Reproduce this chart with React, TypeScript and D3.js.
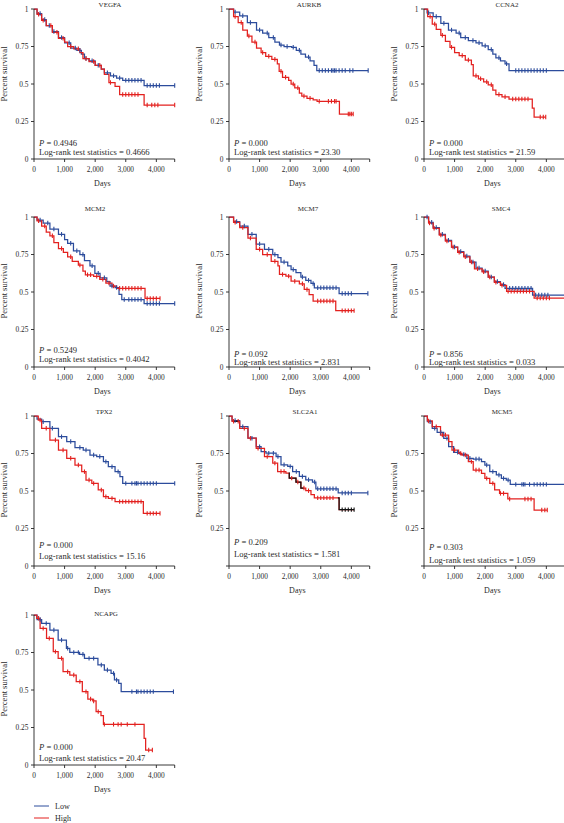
import React from "react";
import * as d3 from "d3";

type Pt = [number, number];

// ---------- DATA ----------
const xTicks = [0, 1000, 2000, 3000, 4000];
const yTicks = [0, 0.25, 0.5, 0.75, 1];
const xMax = 4600;

const vegfaLow: Pt[] = [[0,1],[100,0.97],[250,0.93],[400,0.89],[600,0.85],[800,0.81],[1000,0.775],[1200,0.74],[1400,0.725],[1550,0.70],[1650,0.67],[1800,0.655],[2000,0.625],[2200,0.60],[2300,0.575],[2500,0.555],[2700,0.54],[2900,0.525],[3600,0.49]];
const vegfaHigh: Pt[] = [[0,1],[100,0.965],[250,0.925],[400,0.89],[600,0.845],[800,0.805],[1000,0.78],[1100,0.75],[1300,0.735],[1500,0.71],[1600,0.67],[1800,0.65],[2000,0.625],[2200,0.60],[2300,0.565],[2450,0.51],[2650,0.485],[2800,0.43],[3600,0.36]];
const vegfaLowC = [200,350,500,650,900,1150,1350,1500,1700,1900,2100,2400,2600,2800,3000,3100,3200,3300,3400,3500,3700,3800,3900,4000,4100,4600];
const vegfaHighC = [150,300,550,750,950,1200,1450,1700,1950,2150,2500,2900,3000,3100,3200,3300,3400,3700,3850,3950,4050,4600];

const aurkbLow: Pt[] = [[0,1],[150,0.98],[350,0.955],[600,0.91],[900,0.86],[1100,0.84],[1300,0.81],[1500,0.78],[1650,0.76],[1800,0.75],[2050,0.745],[2200,0.725],[2350,0.70],[2500,0.68],[2650,0.655],[2780,0.625],[2870,0.59]];
const aurkbHigh: Pt[] = [[0,1],[150,0.95],[300,0.91],[450,0.86],[600,0.82],[750,0.78],[900,0.74],[1050,0.71],[1200,0.685],[1400,0.665],[1580,0.635],[1640,0.585],[1750,0.545],[1950,0.525],[2030,0.50],[2150,0.475],[2300,0.44],[2380,0.42],[2550,0.405],[2750,0.395],[2880,0.385],[3610,0.30]];
const aurkbLowC = [200,450,700,1000,1250,1450,1700,1900,2100,2300,2600,2950,3050,3150,3250,3350,3400,3450,3500,3600,3700,3800,3950,4050,4550];
const aurkbHighC = [200,400,650,850,1100,1300,1500,1700,1850,2100,2250,2450,2650,2950,3250,3350,3450,3500,3900,3950,4000,4060];

const ccna2Low: Pt[] = [[0,1],[100,0.975],[300,0.95],[550,0.905],[800,0.86],[1050,0.84],[1200,0.81],[1450,0.79],[1700,0.775],[1900,0.755],[2100,0.73],[2250,0.70],[2350,0.675],[2500,0.655],[2650,0.635],[2780,0.59]];
const ccna2High: Pt[] = [[0,1],[120,0.95],[270,0.90],[400,0.865],[550,0.825],[700,0.785],[850,0.745],[1000,0.71],[1150,0.69],[1350,0.66],[1550,0.63],[1610,0.555],[1780,0.535],[1950,0.515],[2100,0.495],[2250,0.46],[2350,0.43],[2550,0.415],[2780,0.40],[3540,0.34],[3600,0.28]];
const ccna2LowC = [150,400,650,900,1150,1350,1600,1800,2000,2200,2450,2700,3000,3100,3200,3300,3400,3500,3600,3700,3800,3900,4000,4600];
const ccna2HighC = [200,350,600,900,1250,1450,1700,1850,2050,2200,2450,2650,2900,3000,3100,3200,3300,3400,3800,3900,3980];

const mcm2Low: Pt[] = [[0,1],[100,0.98],[300,0.96],[520,0.92],[800,0.885],[1000,0.85],[1100,0.825],[1290,0.775],[1500,0.75],[1650,0.71],[1830,0.675],[1990,0.625],[2160,0.595],[2380,0.57],[2485,0.54],[2650,0.53],[2780,0.485],[2870,0.45],[3600,0.423]];
const mcm2High: Pt[] = [[0,1],[100,0.975],[250,0.94],[400,0.90],[520,0.875],[650,0.83],[800,0.79],[960,0.765],[1100,0.735],[1250,0.705],[1450,0.68],[1600,0.64],[1680,0.615],[1950,0.605],[2150,0.585],[2350,0.56],[2550,0.54],[2700,0.525],[3630,0.457]];
const mcm2LowC = [200,450,650,900,1200,1400,1600,1900,2100,2300,2550,2700,2950,3100,3200,3300,3400,3500,3700,3800,3900,4000,4100,4600];
const mcm2HighC = [150,350,600,900,1200,1500,1750,1850,2050,2250,2450,2600,2800,2900,3000,3100,3200,3300,3400,3500,3700,3800,3900,4000,4120];

const mcm7Low: Pt[] = [[0,1],[150,0.97],[350,0.94],[620,0.885],[890,0.82],[1160,0.785],[1430,0.75],[1600,0.73],[1700,0.70],[1920,0.675],[2030,0.65],[2190,0.63],[2350,0.60],[2510,0.578],[2680,0.557],[2790,0.528],[3600,0.49]];
const mcm7High: Pt[] = [[0,1],[150,0.965],[350,0.93],[620,0.86],[890,0.785],[1100,0.75],[1380,0.705],[1600,0.675],[1650,0.617],[1860,0.606],[2030,0.572],[2300,0.555],[2460,0.517],[2620,0.483],[2750,0.44],[3490,0.376]];
const mcm7LowC = [250,500,750,1000,1300,1500,1800,2100,2400,2600,2750,2900,3000,3100,3200,3300,3400,3500,3700,3800,3900,4000,4540];
const mcm7HighC = [200,450,700,1000,1250,1500,1750,1950,2150,2400,2550,2900,3000,3100,3200,3300,3400,3700,3800,3900,4000,4090];

const smc4Low: Pt[] = [[0,1],[150,0.965],[300,0.93],[500,0.885],[700,0.845],[900,0.80],[1100,0.77],[1300,0.74],[1500,0.70],[1700,0.66],[1900,0.64],[2100,0.60],[2300,0.57],[2500,0.55],[2650,0.525],[3550,0.48]];
const smc4High: Pt[] = [[0,1],[150,0.96],[300,0.925],[500,0.88],[700,0.84],[900,0.80],[1100,0.765],[1300,0.735],[1500,0.70],[1650,0.655],[1900,0.635],[2100,0.60],[2300,0.565],[2500,0.545],[2700,0.505],[3600,0.46]];
const smc4LowC = [100,250,400,600,800,1000,1200,1400,1600,1800,2000,2200,2400,2600,2800,2900,3000,3100,3200,3300,3400,3500,3650,3750,3850,3950,4050,4600];
const smc4HighC = [180,330,550,750,950,1150,1350,1550,1750,1950,2150,2350,2550,2750,2850,2950,3050,3150,3250,3350,3450,3700,3800,3900,4000,4100,4600];

const tpx2Low: Pt[] = [[0,1],[100,0.98],[250,0.962],[520,0.918],[800,0.862],[1070,0.83],[1340,0.79],[1610,0.773],[1830,0.74],[2050,0.73],[2270,0.696],[2430,0.662],[2650,0.629],[2810,0.596],[2900,0.551]];
const tpx2High: Pt[] = [[0,1],[140,0.973],[250,0.918],[520,0.84],[800,0.773],[1070,0.718],[1340,0.673],[1560,0.629],[1700,0.573],[1890,0.551],[2100,0.507],[2270,0.462],[2430,0.451],[2650,0.429],[3575,0.351]];
const tpx2LowC = [300,600,900,1200,1500,1700,1950,2150,2350,2550,2750,3000,3200,3300,3350,3400,3500,3600,3700,3800,3900,4000,4600];
const tpx2HighC = [200,400,700,950,1200,1450,1650,1800,1950,2200,2350,2550,2800,2900,3000,3100,3200,3300,3400,3500,3700,3800,3900,4000,4120];

const slc2a1Low: Pt[] = [[0,1],[100,0.97],[350,0.929],[620,0.852],[890,0.796],[1050,0.763],[1210,0.752],[1540,0.73],[1700,0.675],[1920,0.664],[2080,0.63],[2300,0.597],[2510,0.575],[2730,0.56],[2840,0.515],[3570,0.487]];
const slc2a1High: Pt[] = [[0,1],[100,0.965],[350,0.918],[620,0.852],[890,0.785],[1160,0.73],[1430,0.686],[1590,0.63],[1860,0.62],[1970,0.586],[2190,0.56],[2350,0.52],[2510,0.502],[2680,0.476],[2790,0.454],[3600,0.376]];
const slc2a1LowC = [200,450,750,1000,1300,1450,1600,1800,2000,2200,2400,2600,2800,2900,3000,3100,3200,3300,3400,3500,3700,3800,3900,4000,4540];
const slc2a1HighC = [150,300,500,700,950,1250,1500,1700,1800,2050,2250,2450,2600,2900,3000,3100,3200,3300,3400,3700,3800,3900,4000,4090];
const slc2a1HighBlack: Pt[] = [[150,300],[1950,2450],[3560,4090]];

const mcm5Low: Pt[] = [[0,1],[110,0.962],[270,0.918],[430,0.891],[645,0.851],[805,0.796],[970,0.758],[1180,0.744],[1400,0.718],[1610,0.713],[1880,0.696],[1990,0.673],[2150,0.629],[2365,0.607],[2530,0.584],[2690,0.573],[2820,0.544]];
const mcm5High: Pt[] = [[0,1],[110,0.967],[270,0.929],[540,0.873],[805,0.829],[915,0.773],[1130,0.751],[1240,0.74],[1450,0.696],[1610,0.64],[1880,0.618],[1990,0.584],[2150,0.551],[2310,0.507],[2470,0.484],[2740,0.447],[3600,0.373]];
const mcm5LowC = [200,350,550,750,1100,1300,1500,1700,1800,2050,2250,2450,2600,2750,3000,3200,3250,3300,3450,3600,3700,3800,3900,4000,4600];
const mcm5HighC = [150,400,600,700,1000,1200,1350,1550,1700,1800,2050,2250,2500,2600,2800,3300,3400,3500,3850,3950,4030];

const ncapgLow: Pt[] = [[0,1],[100,0.97],[250,0.944],[520,0.9],[790,0.833],[1060,0.778],[1170,0.751],[1490,0.738],[1650,0.711],[2090,0.667],[2300,0.633],[2520,0.611],[2630,0.567],[2770,0.544],[2850,0.489]];
const ncapgHigh: Pt[] = [[0,1],[90,0.978],[200,0.911],[410,0.844],[630,0.756],[790,0.711],[950,0.622],[1170,0.60],[1380,0.556],[1580,0.489],[1760,0.44],[1920,0.427],[2030,0.356],[2190,0.329],[2270,0.271],[3600,0.178],[3650,0.10]];
const ncapgLowC = [200,400,650,900,1100,1300,1450,1600,1800,1950,2200,2400,2600,2700,3200,3350,3400,3500,3600,3700,3800,3900,4560];
const ncapgHighC = [150,300,500,700,900,1100,1300,1500,1700,1850,1950,2100,2300,2600,2750,2850,3050,3300,3750,3870];

const genes = ["VEGFA","AURKB","CCNA2","MCM2","MCM7","SMC4","TPX2","SLC2A1","MCM5","NCAPG"];
const pValues = ["0.4946","0.000","0.000","0.5249","0.092","0.856","0.000","0.209","0.303","0.000"];
const logRank = ["0.4666","23.30","21.59","0.4042","2.831","0.033","15.16","1.581","1.059","20.47"];
const lowSeries = [vegfaLow,aurkbLow,ccna2Low,mcm2Low,mcm7Low,smc4Low,tpx2Low,slc2a1Low,mcm5Low,ncapgLow];
const highSeries = [vegfaHigh,aurkbHigh,ccna2High,mcm2High,mcm7High,smc4High,tpx2High,slc2a1High,mcm5High,ncapgHigh];
const lowCensor = [vegfaLowC,aurkbLowC,ccna2LowC,mcm2LowC,mcm7LowC,smc4LowC,tpx2LowC,slc2a1LowC,mcm5LowC,ncapgLowC];
const highCensor = [vegfaHighC,aurkbHighC,ccna2HighC,mcm2HighC,mcm7HighC,smc4HighC,tpx2HighC,slc2a1HighC,mcm5HighC,ncapgHighC];
const legendLabels = ["Low", "High"];

// ---------- LAYOUT ----------
const FONT = "'Liberation Serif', 'Times New Roman', serif";
const BLUE = "#2c4c9c";
const RED = "#e3211f";
const TXT = "#2a2a2a";
const colX = [34, 229, 424];
const rowZero = [159, 367, 566, 765];
const PH = 150;
const PW = 140.7;
const titleY = [4.5, 209, 412, 614];
const ylabShift = [-10, -1, -1, -1];
const titleDx = [76, 80, 83, 61, 79, 77, 70, 76, 78, 72];
const annDy: Pt[] = [[-16,-7],[-16,-7],[-16,-7],[-17,-8],[-13.5,-5],[-13.5,-5],[-21,-10],[-24,-12],[-19,-6],[-18,-7]];
const hideOne = [false,false,false,false,false,false,false,false,true,false];
const hideZero = [false,false,false,false,false,false,false,true,true,false];

function surv(pts: Pt[], t: number) {
  let s = pts[0][1];
  for (const [tt, v] of pts) { if (tt <= t) s = v; else break; }
  return s;
}
function segment(pts: Pt[], a: number, b: number): Pt[] {
  const out: Pt[] = [[a, surv(pts, a)]];
  for (const p of pts) if (p[0] > a && p[0] < b) out.push(p);
  out.push([b, surv(pts, b)]);
  return out;
}

function Panel({ i }: { i: number }) {
  const col = i % 3, row = Math.floor(i / 3);
  const ax = colX[col], zero = rowZero[row];
  const x = d3.scaleLinear().domain([0, xMax]).range([ax, ax + PW]);
  const y = d3.scaleLinear().domain([0, 1]).range([zero, zero - PH]);
  const line = d3.line<Pt>().x(d => x(d[0])).y(d => y(d[1])).curve(d3.curveStepAfter);
  const lowC = lowCensor[i], highC = highCensor[i];
  const lowEnd = lowC[lowC.length - 1], highEnd = highC[highC.length - 1];
  const lowPts = segment(lowSeries[i], 0, lowEnd);
  const highPts = segment(highSeries[i], 0, highEnd);
  const blackSegs = genes[i] === "SLC2A1" ? slc2a1HighBlack : [];
  const isBlack = (t: number) => blackSegs.some(([a, b]) => t >= a && t <= b && a > 3000);
  const yMid = (zero + zero - PH) / 2 + ylabShift[row];
  return (
    <g>
      <text x={ax + titleDx[i]} y={titleY[row]} dy="0.35em" textAnchor="middle" fontSize={7} fill={TXT}>{genes[i]}</text>
      <path d={line(lowPts) || ""} fill="none" stroke={BLUE} strokeWidth={1.25} />
      <path d={line(highPts) || ""} fill="none" stroke={RED} strokeWidth={1.25} />
      {blackSegs.map(([a, b], k) => (
        <path key={k} d={line(segment(highSeries[i], a, b)) || ""} fill="none" stroke="#111" strokeWidth={1.25} />
      ))}
      {lowC.map((t, k) => (
        <line key={"lc" + k} x1={x(t)} x2={x(t)} y1={y(surv(lowSeries[i], t)) - 2.2} y2={y(surv(lowSeries[i], t)) + 2.2} stroke={BLUE} strokeWidth={1.1} />
      ))}
      {highC.map((t, k) => (
        <line key={"hc" + k} x1={x(t)} x2={x(t)} y1={y(surv(highSeries[i], t)) - 2.2} y2={y(surv(highSeries[i], t)) + 2.2} stroke={isBlack(t) ? "#111" : RED} strokeWidth={1.1} />
      ))}
      <line x1={ax} x2={ax} y1={zero} y2={zero - PH} stroke="#222" strokeWidth={0.9} />
      <line x1={ax} x2={ax + PW} y1={zero} y2={zero} stroke="#222" strokeWidth={0.9} />
      {yTicks.map(v => (
        <g key={"yt" + v}>
          <line x1={ax - 3} x2={ax} y1={y(v)} y2={y(v)} stroke="#222" strokeWidth={0.9} />
          {!((v === 1 && hideOne[i]) || (v === 0 && hideZero[i])) && (
            <text x={ax - 5.5} y={y(v)} dy="0.35em" textAnchor="end" fontSize={7.4} fill={TXT}>{String(v)}</text>
          )}
        </g>
      ))}
      {[...xTicks, xMax].map(v => (
        <line key={"xt" + v} x1={x(v)} x2={x(v)} y1={zero} y2={zero + 3} stroke="#222" strokeWidth={0.9} />
      ))}
      {xTicks.map(v => (
        <text key={"xl" + v} x={x(v)} y={zero + 10.5} dy="0.35em" textAnchor="middle" fontSize={7.4} fill={TXT}>{d3.format(",")(v)}</text>
      ))}
      <text x={ax + PW / 2 - 2} y={zero + 24} dy="0.35em" textAnchor="middle" fontSize={8} fill={TXT}>Days</text>
      <text transform={`translate(${ax - 30},${yMid}) rotate(-90)`} dy="0.35em" textAnchor="middle" fontSize={8.5} fill={TXT}>Percent survival</text>
      <text x={ax + 5} y={zero + annDy[i][0]} dy="0.35em" fontSize={8.6} fill={TXT}>
        <tspan fontStyle="italic">P</tspan> = {pValues[i]}
      </text>
      <text x={ax + 5} y={zero + annDy[i][1]} dy="0.35em" fontSize={8.6} fill={TXT}>Log-rank test statistics = {logRank[i]}</text>
    </g>
  );
}

export default function App() {
  return (
    <div style={{ position: "absolute", left: 0, top: 0 }}>
      <svg width={564} height={823} fontFamily={FONT} style={{ display: "block", background: "#fff" }}>
        {genes.map((g, i) => <Panel key={g} i={i} />)}
        {legendLabels.map((l, k) => (
          <g key={l}>
            <line x1={34} x2={49} y1={806 + k * 12} y2={806 + k * 12} stroke={k === 0 ? BLUE : RED} strokeWidth={1} />
            <text x={55} y={806 + k * 12} dy="0.35em" fontSize={8} fill={TXT}>{l}</text>
          </g>
        ))}
      </svg>
    </div>
  );
}
